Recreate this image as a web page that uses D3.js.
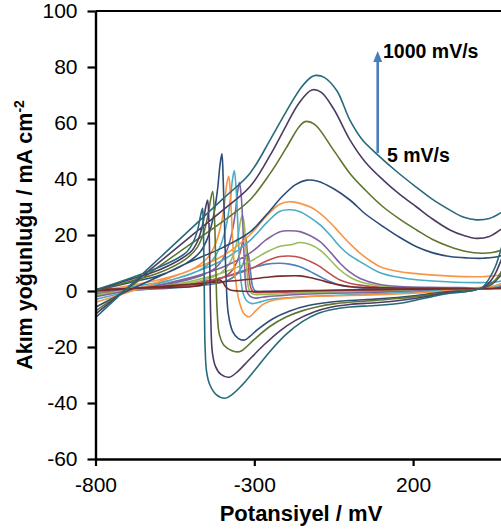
<!DOCTYPE html>
<html><head><meta charset="utf-8">
<script src="https://cdn.jsdelivr.net/npm/d3@7"></script>
<style>
body{margin:0;background:#fff}
svg{display:block}
text{font-family:"Liberation Sans",Arial,Helvetica,sans-serif;fill:#000}
</style>
</head><body>
<svg id="c" width="501" height="532"></svg>
<script>
// ---- data (potential mV, current density mA cm-2), each loop: forward sweep then reverse sweep ----
const xTicks = [-800, -300, 200];
const yTicks = [-60, -40, -20, 0, 20, 40, 60, 80, 100];
const xTitle = "Potansiyel / mV";
const yTitle = "Akım yoğunluğu / mA cm";
const yTitleSup = "-2";
const annTop = "1000 mV/s";
const annBottom = "5 mV/s";

const loopBlue = [[-800,-0.6],[-700,0.3],[-600,1.2],[-500,2.5],[-400,4.8],[-314,8],[-260,9.6],[-219,9.9],[-190,9.6],[-156,8.7],[-125,7],[-93,5.1],[-60,3.3],[-30,2.1],[0,1.5],[33,1.1],[96,0.9],[200,0.8],[350,0.8],[450,0.9],[520,2.3],[560,5],
  [525,2],[490,1.1],[450,0.8],[400,0.7],[300,0.6],[200,0.4],[100,0.3],[0,0.2],[-100,0.1],[-200,0],[-270,-0.1],[-285,-0.2],[-297,0],[-305,1.5],[-311,6],[-315,10],[-318,12.5],[-322,13.5],[-328,12],[-336,9.5],[-348,7],[-365,5],[-390,3.5],[-440,2.3],[-530,1.3],[-650,0.5],[-800,-0.4]];
const loopRed = [[-800,-0.9],[-700,0.2],[-600,1.3],[-500,2.6],[-400,4.8],[-314,7.8],[-260,10.8],[-219,12.3],[-190,12.5],[-156,12],[-125,10.6],[-93,8.7],[-60,6],[-30,3.9],[0,2.8],[33,2.1],[96,1.4],[200,1.1],[350,1],[450,1.1],[520,2.6],[560,5.5],
  [525,2.2],[490,1.3],[450,0.9],[400,0.8],[300,0.6],[200,0.4],[100,0.2],[0,0],[-100,-0.2],[-200,-0.4],[-270,-0.5],[-290,-0.6],[-304,-0.2],[-312,1.5],[-318,8],[-323,15],[-326,18.5],[-330,20],[-336,18],[-344,14],[-356,10],[-372,7],[-398,4.8],[-450,3],[-530,1.7],[-650,0.6],[-800,-0.5]];
const loopGreen = [[-800,-1.4],[-700,0],[-600,1.6],[-500,3.5],[-400,6.5],[-314,10.5],[-260,14],[-219,16],[-185,16.5],[-156,17.3],[-125,16.6],[-93,14.6],[-60,11],[-30,7.5],[0,5],[33,3.3],[96,1.8],[160,1.3],[300,1],[450,1.1],[520,3],[560,6],
  [525,2.5],[490,1.4],[450,1],[400,0.9],[300,0.6],[200,0.2],[100,-0.1],[0,-0.3],[-100,-0.5],[-200,-1],[-270,-1.2],[-295,-1.3],[-309,-0.8],[-318,1],[-324,10],[-329,20],[-333,25],[-338,27],[-344,24.5],[-352,19],[-364,13.5],[-380,9.5],[-405,6.5],[-450,4.2],[-530,2.3],[-650,0.8],[-800,-0.5]];
const loopPurple = [[-800,-2],[-700,0],[-600,2.2],[-500,4.8],[-400,8.5],[-314,13.5],[-260,18.5],[-219,21.2],[-190,21.5],[-156,21.2],[-125,19.8],[-93,17.6],[-60,13.8],[-30,9.9],[0,6.8],[33,4.5],[96,2.3],[160,1.6],[250,1.3],[350,1.2],[450,1.3],[520,3.5],[560,7],
  [525,3],[490,1.6],[450,1],[400,0.9],[300,0.5],[200,0],[100,-0.4],[0,-0.7],[-100,-1],[-200,-1.5],[-260,-2],[-285,-2.4],[-300,-2.5],[-314,-1.8],[-324,0],[-331,10],[-337,26],[-342,35],[-347,38.7],[-353,35],[-361,27],[-373,19.5],[-390,13.5],[-415,9],[-460,5.8],[-540,3.2],[-660,1.2],[-800,-0.4]];
const loopAqua = [[-800,-3],[-700,-0.3],[-600,2.7],[-500,6.2],[-400,11],[-314,18],[-260,24.5],[-219,28.5],[-185,29],[-156,28.3],[-125,26.3],[-93,23.6],[-60,19.8],[-30,15.8],[0,12.8],[33,10.5],[96,6.5],[159,4.8],[210,4],[306,3.3],[411,3],[474,3.5],[520,6],[555,10],
  [520,5.5],[495,3],[470,1.8],[440,1.2],[400,1],[316,0.4],[250,-0.1],[200,-0.4],[100,-0.9],[0,-1.4],[-100,-1.8],[-180,-2.3],[-230,-2.7],[-260,-3.2],[-285,-4],[-308,-4.5],[-324,-3.5],[-336,-0.5],[-345,8],[-352,24],[-357,36],[-363,43],[-369,39.5],[-377,31],[-389,23],[-407,16],[-432,11],[-480,7],[-560,4],[-680,1.6],[-800,-0.3]];
const loopOrange = [[-800,-4],[-700,-0.5],[-600,3.3],[-500,7.5],[-400,12.5],[-314,20],[-260,27],[-220,31],[-190,31.9],[-156,31.3],[-120,29.8],[-93,27.7],[-60,24.3],[-30,20.6],[0,17],[33,13.5],[65,10.8],[96,8.7],[159,6.9],[201,6.3],[306,5.4],[411,5.1],[474,5.8],[520,8],[555,12],
  [520,7],[495,4],[470,2.3],[440,1.5],[400,1.2],[316,0.2],[250,-0.5],[200,-0.8],[100,-1.3],[0,-1.6],[-100,-1.9],[-150,-2.2],[-200,-2.6],[-240,-3.3],[-270,-4.6],[-295,-7],[-316,-9.2],[-333,-8],[-348,-3.5],[-360,5],[-368,18],[-374,32],[-378,39],[-381,41],[-387,38],[-395,30],[-407,22.5],[-425,16],[-450,11.5],[-500,7.5],[-600,4],[-700,1.8],[-800,-0.2]];
const loopNavy = [[-800,-5.8],[-700,0],[-600,5.2],[-500,10.5],[-400,15.5],[-314,21],[-260,27.5],[-210,34],[-170,38],[-135,39.6],[-100,39.2],[-50,36.5],[1,32.5],[50,27.5],[106,23],[160,19],[211,15.8],[260,13.7],[316,12.3],[370,11.8],[420,11.7],[474,12.5],[510,15],[545,19],
  [510,12],[490,8],[470,4.8],[450,2.6],[420,1.1],[380,0.4],[316,-0.2],[260,-0.9],[211,-1.6],[150,-2.3],[80,-2.9],[0,-3.4],[-70,-4.1],[-130,-5.2],[-190,-7.2],[-240,-9.8],[-290,-13.8],[-315,-16.3],[-331,-17.5],[-350,-17],[-368,-14.5],[-382,-8],[-389,5],[-394,25],[-398,40],[-402,49],[-408,45],[-416,36],[-428,27],[-445,19.5],[-470,14],[-520,9.5],[-600,5.5],[-700,2.8],[-800,0.1]];
const loopDarkRed = [[-800,0],[-700,0.8],[-600,1.6],[-500,2.4],[-400,3.3],[-314,4.2],[-260,4.9],[-219,5.3],[-156,5.4],[-125,4.8],[-93,3.9],[-60,2.9],[-30,2.1],[0,1.6],[33,1.3],[100,1.1],[200,1],[350,0.9],[450,0.9],[520,1.8],[560,3.5],
  [525,1.4],[490,1],[450,0.9],[400,0.8],[300,0.7],[200,0.6],[100,0.5],[0,0.4],[-100,0.2],[-200,0],[-260,-0.2],[-313,-0.2],[-350,0],[-376,0.4],[-390,1.5],[-398,3],[-408,3.9],[-420,3.7],[-440,3],[-470,2],[-503,1.5],[-560,1.3],[-650,1],[-800,0.6]];
const loopOlive = [[-800,-7.2],[-700,0.8],[-600,8.8],[-500,16.8],[-400,24.8],[-314,32.5],[-250,42],[-200,51],[-160,58.5],[-140,60.5],[-110,59.5],[-51,50.4],[1,42],[50,36],[106,30],[160,25.5],[211,21.8],[260,18.5],[316,15.8],[360,14.3],[420,13.5],[474,14.5],[510,17],[545,21],
  [510,14],[490,9.5],[470,5.5],[450,3],[420,1.2],[380,0.3],[316,-0.4],[260,-1.2],[211,-2],[150,-2.7],[80,-3.4],[0,-4],[-50,-4.6],[-100,-5.6],[-150,-7.1],[-200,-9.3],[-250,-12.6],[-300,-17.3],[-330,-20.5],[-347,-21.7],[-370,-21.3],[-395,-19.5],[-410,-15.5],[-417,-7],[-421,8],[-425,25],[-431,35.5],[-437,33],[-446,27],[-460,20.5],[-480,15.5],[-515,11.5],[-600,6.5],[-700,3.2],[-800,0.2]];
const loopDarkPurple = [[-800,-8.3],[-700,1],[-600,10.2],[-500,19.5],[-400,28.8],[-314,37.2],[-250,48.5],[-200,59],[-160,67],[-119,71.8],[-90,71],[-50,65],[1,54],[50,46],[106,39.6],[160,34.3],[211,30],[260,25.8],[316,21.8],[360,19.8],[400,18.8],[440,19.5],[474,21.8],[510,25],[545,30],
  [510,21],[490,15],[477,11],[460,6.5],[440,3],[420,1.2],[380,0],[316,-0.5],[260,-1.6],[211,-2.6],[150,-3.5],[80,-4.2],[0,-4.8],[-60,-5.8],[-110,-7.4],[-170,-10.5],[-220,-14.3],[-270,-19.3],[-320,-25],[-350,-28.5],[-379,-30.8],[-405,-29.8],[-422,-27],[-432,-22],[-437,-10],[-440,8],[-443,25],[-447,32.5],[-453,30],[-462,24],[-476,18.5],[-496,14.5],[-530,11.5],[-600,7.5],[-700,3.8],[-800,0.3]];
const loopTeal = [[-800,-9.5],[-700,1],[-600,11.6],[-500,22.2],[-400,32.8],[-314,42],[-250,54],[-200,64],[-150,73],[-119,76.5],[-106,77],[-80,76.3],[-40,71.5],[1,61],[40,54],[85,49],[150,42.5],[211,37],[260,32.8],[316,28.9],[360,26.3],[400,25.4],[440,25.9],[474,27.8],[510,31],[545,36],
  [510,27],[490,20],[477,15],[460,9],[440,4.5],[420,1.5],[380,0],[316,-0.8],[260,-2],[211,-3.2],[159,-4.4],[80,-5.2],[0,-5.7],[-50,-6.5],[-100,-8],[-150,-11],[-200,-15.5],[-250,-21.5],[-300,-28.5],[-340,-33.8],[-370,-37],[-392,-38.3],[-420,-37],[-440,-33.5],[-450,-29],[-455,-20],[-457,-5],[-459,15],[-461,25],[-463,29.5],[-469,27],[-478,22],[-492,17.5],[-512,14],[-540,11.8],[-600,8.5],[-700,4.2],[-800,0.4]];

const seriesLoops = [loopBlue, loopRed, loopGreen, loopPurple, loopAqua, loopOrange, loopNavy, loopDarkRed, loopOlive, loopDarkPurple, loopTeal];
const seriesColors = ["#4F81BD","#C0504D","#9BBB59","#8064A2","#4BACC6","#F79646","#2C4D75","#772C2A","#5F7530","#4D3B62","#276A7C"];

// ---- chart ----
const svg = d3.select("#c");
const x = d3.scaleLinear().domain([-800, 700]).range([95.5, 571.9]);
const y = d3.scaleLinear().domain([-60, 100]).range([459, 11]);

svg.append("defs").append("clipPath").attr("id","plot")
  .append("rect").attr("x", x(-800)).attr("y", y(100)).attr("width", x(700)-x(-800)).attr("height", y(-60)-y(100));

const line = d3.line().x(d => x(d[0])).y(d => y(d[1])).curve(d3.curveCatmullRom.alpha(0.5));
const gLines = svg.append("g").attr("clip-path","url(#plot)");
seriesLoops.forEach((loop, i) => {
  gLines.append("path").attr("d", line(loop)).attr("fill","none")
    .attr("stroke", seriesColors[i]).attr("stroke-width", 1.6).attr("stroke-linejoin","round");
});

// frame top
svg.append("line").attr("x1", x(-800)).attr("x2", x(700)).attr("y1", y(100)).attr("y2", y(100))
  .attr("stroke","#000").attr("stroke-width",2.2);

// axes
const gx = svg.append("g").attr("transform", `translate(0,${y(-60)})`)
  .call(d3.axisBottom(x).tickValues(xTicks).tickSize(7).tickSizeOuter(0).tickPadding(11).tickFormat(d => String(d)));
const gy = svg.append("g").attr("transform", `translate(${x(-800)},0)`)
  .call(d3.axisLeft(y).tickValues(yTicks).tickSize(8).tickSizeOuter(0).tickPadding(10).tickFormat(d => String(d)));
[gx, gy].forEach(g => {
  g.select(".domain").attr("stroke","#000").attr("stroke-width",2.4);
  g.selectAll(".tick line").attr("stroke","#000").attr("stroke-width",2.2);
  g.selectAll(".tick text").attr("fill","#000").style("font-size","21px")
    .style("font-family",'"Liberation Sans",Arial,sans-serif');
});

// axis titles
svg.append("text").attr("x", 301).attr("y", 521).attr("text-anchor","middle")
  .style("font-size","22px").style("font-weight","bold").text(xTitle);
const yt = svg.append("text").attr("transform","translate(32,235) rotate(-90)").attr("text-anchor","middle")
  .style("font-size","21.5px").style("font-weight","bold");
yt.append("tspan").text(yTitle);
yt.append("tspan").attr("dy","-0.55em").style("font-size","14px").text(yTitleSup);

// annotation arrow
const arrowX = 377.7;
svg.append("line").attr("x1", arrowX).attr("x2", arrowX).attr("y1", 153).attr("y2", 61)
  .attr("stroke","#4A7EBB").attr("stroke-width",2.6);
svg.append("path").attr("d", `M${arrowX},51 L${arrowX-4.5},62 L${arrowX+4.5},62 Z`).attr("fill","#4A7EBB");
svg.append("text").attr("x", 383).attr("y", 58).style("font-size","19.5px").style("font-weight","bold").text(annTop);
svg.append("text").attr("x", 387).attr("y", 162).style("font-size","19.5px").style("font-weight","bold").text(annBottom);
</script>
</body></html>
